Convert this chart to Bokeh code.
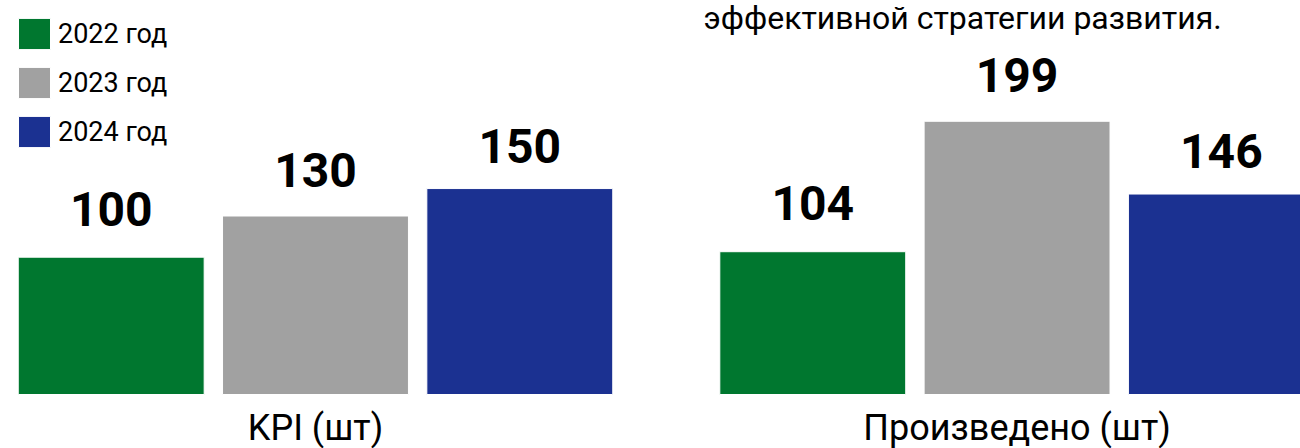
from bokeh.plotting import figure
from bokeh.models import Range1d, Legend, LegendItem, Label, ColumnDataSource
from bokeh.core.properties import value
from bokeh.embed import file_html
from bokeh.resources import INLINE

# ---- data ----
groups = ["KPI (шт)", "Произведено (шт)"]
years = ["2022 год", "2023 год", "2024 год"]
kpi = [100, 130, 150]
produced = [104, 199, 146]
colors = ["#00772F", "#A1A1A1", "#1B3191"]
caption = "эффективной стратегии развития."

# ---- layout constants (pixels / slots) ----
W, H = 1300, 448
SLOT = 204.3          # px per bar slot
GROUP_STEP = 3.434    # slots between group centres
BAR_W = 0.91          # bar width in slots
PX_PER_UNIT = 1.373   # px per value unit
BASE_Y = 394          # baseline distance from figure top, px
LEFT_CENTER = 315     # px of first group centre
label_gaps = [32, 30, 26.5]
FONT = value("Roboto")
VAL_FS = 48
CAT_FS = 36
CAP_FS = 32
DESC = 0.34           # baseline compensation factor

x_start = -LEFT_CENTER / SLOT
x_end = x_start + W / SLOT
y_end = BASE_Y / PX_PER_UNIT
y_start = -(H - BASE_Y) / PX_PER_UNIT

p = figure(width=W, height=H, output_backend="svg", toolbar_location=None,
           x_range=Range1d(x_start, x_end), y_range=Range1d(y_start, y_end),
           min_border=0, min_border_left=0, min_border_right=0,
           min_border_top=0, min_border_bottom=0)
p.axis.visible = False
p.grid.visible = False
p.outline_line_color = None
p.background_fill_color = "white"
p.border_fill_color = "white"

series = [[kpi[k], produced[k]] for k in range(len(years))]
group_centers = [g * GROUP_STEP for g in range(len(groups))]

legend_items = []
for k, yr in enumerate(years):
    xs = [c + (k - 1) for c in group_centers]
    src = ColumnDataSource(dict(x=xs, top=series[k],
                                lbl=[str(v) for v in series[k]]))
    r = p.vbar(x="x", top="top", bottom=0, width=BAR_W, source=src,
               fill_color=colors[k], line_color="white", line_width=1)
    p.text(x="x", y="top", text="lbl", source=src, text_font=FONT,
           text_font_size=f"{VAL_FS}px", text_font_style="bold",
           text_color="#000000", text_align="center",
           text_baseline="alphabetic",
           y_offset=-(label_gaps[k] + DESC * VAL_FS))
    legend_items.append(LegendItem(label=yr, renderers=[r]))

# category labels under each group
csrc = ColumnDataSource(dict(x=group_centers, y=[0] * len(groups), t=groups))
p.text(x="x", y="y", text="t", source=csrc, text_font=FONT,
       text_font_size=f"{CAT_FS}px", text_color="#000000", text_align="center",
       text_baseline="alphabetic", y_offset=46 - DESC * CAT_FS)

legend = Legend(items=legend_items, location="top_left", margin=14, padding=0,
                spacing=10, glyph_width=40, glyph_height=39, label_height=39,
                label_standoff=4, label_text_font="Roboto",
                label_text_font_size="27px", label_text_color="#000000",
                border_line_alpha=0, background_fill_alpha=0)
p.add_layout(legend)

p.add_layout(Label(x=703, y=H - (28 - DESC * CAP_FS), x_units="screen",
                   y_units="screen", text=caption, text_font="Roboto",
                   text_font_size=f"{CAP_FS}px", text_color="#000000",
                   text_baseline="alphabetic"))

open("out.html", "w").write(file_html(p, INLINE))
